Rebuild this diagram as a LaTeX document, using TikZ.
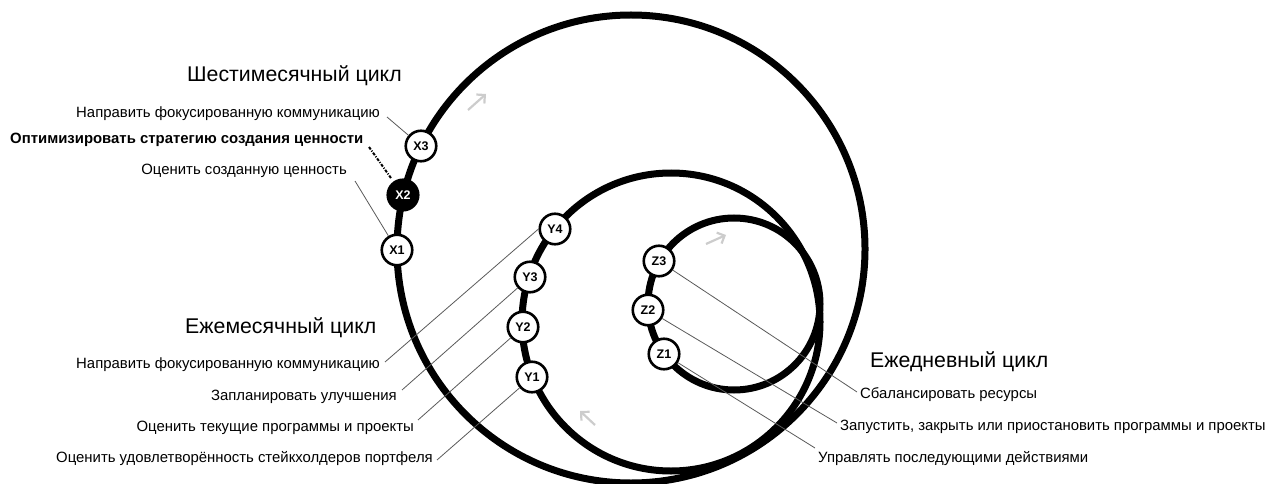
\documentclass[tikz,border=0pt]{standalone}
\usepackage{fontspec}
\setmainfont{Liberation Sans}
\usetikzlibrary{arrows.meta}

\begin{document}
\begin{tikzpicture}[x=1pt, y=-1pt,
  cycle/.style={line width=7pt},
  stage/.style={circle, draw, line width=2.6pt, fill=white, minimum size=30.5pt, inner sep=0pt, font=\bfseries\fontsize{12.5}{12.5}\selectfont},
  keystage/.style={stage, fill=black, text=white},
  note/.style={inner sep=0pt, font=\fontsize{14.9}{15}\selectfont},
  heading/.style={inner sep=0pt, font=\fontsize{21.3}{22}\selectfont},
  leader/.style={draw=black!65, line width=0.8pt},
  flow/.style={draw=black!20, line width=2.2pt, -{Straight Barb[length=6pt,width=12pt]}}]
\useasboundingbox (0,0) rectangle (1266,484);

% Cycles
\draw[cycle] (631,249) circle[radius=234pt];
\draw[cycle] (671,322) circle[radius=149pt];
\draw[cycle] (734,304) circle[radius=86pt];

% Direction arrows
\coordinate (fa1) at (468,110); \coordinate (fa2) at (486,94);
\coordinate (fb1) at (595,425); \coordinate (fb2) at (580,411);
\coordinate (fc1) at (706,244); \coordinate (fc2) at (726,235);
\draw[flow] (fa1) -- (fa2);
\draw[flow] (fb1) -- (fb2);
\draw[flow] (fc1) -- (fc2);

% Six-month cycle
\node[heading, anchor=base west] (tx) at (187,82) {Шестимесячный цикл};
\node[note, anchor=base east] (lx3) at (380,118) {Направить фокусированную коммуникацию};
\node[note, anchor=base west, font=\bfseries\fontsize{14.9}{15}\selectfont] (lx2) at (10,143) {Оптимизировать стратегию создания ценности};
\node[note, anchor=base east] (lx1) at (347,174) {Оценить созданную ценность};
\coordinate (ex3) at (387,117);
\coordinate (ex2) at (369,147);
\coordinate (ex1) at (355,181);

% Monthly cycle
\node[heading, anchor=base west] (ty) at (185,333) {Ежемесячный цикл};
\node[note, anchor=base east] (ly4) at (380,368) {Направить фокусированную коммуникацию};
\node[note, anchor=base east] (ly3) at (397,400) {Запланировать улучшения};
\node[note, anchor=base east] (ly2) at (414,431) {Оценить текущие программы и проекты};
\node[note, anchor=base east] (ly1) at (433,462) {Оценить удовлетворённость стейкхолдеров портфеля};
\coordinate (ey4) at (385,362);
\coordinate (ey3) at (402,390);
\coordinate (ey2) at (418,420);
\coordinate (ey1) at (437,460);

% Daily cycle
\node[heading, anchor=base west] (tz) at (870,367) {Ежедневный цикл};
\node[note, anchor=base west] (lz3) at (860,398) {Сбалансировать ресурсы};
\node[note, anchor=base west] (lz2) at (840,430) {Запустить, закрыть или приостановить программы и проекты};
\node[note, anchor=base west] (lz1) at (818,462) {Управлять последующими действиями};
\coordinate (ez3) at (857,392);
\coordinate (ez2) at (837,423);
\coordinate (ez1) at (815,448);

% Stages
\node[stage] (x1) at (397,250) {X1};
\node[keystage] (x2) at (403,195) {X2};
\node[stage] (x3) at (421,146) {X3};
\node[stage] (y1) at (532,377) {Y1};
\node[stage] (y2) at (523,327) {Y2};
\node[stage] (y3) at (530,277) {Y3};
\node[stage] (y4) at (555,229) {Y4};
\node[stage] (z1) at (664,354) {Z1};
\node[stage] (z2) at (648,310) {Z2};
\node[stage] (z3) at (659,261) {Z3};

% Leaders
\draw[leader] (ex3) -- (x3);
\draw[line width=2pt, dash pattern=on 3pt off 1.5pt on 1pt off 1.5pt, shorten >=4pt] (ex2) -- (x2);
\draw[leader] (ex1) -- (x1);
\draw[leader] (ey4) -- (y4.west);
\draw[leader] (ey3) -- (y3);
\draw[leader] (ey2) -- (y2);
\draw[leader] (ey1) -- (y1);
\draw[leader] (ez3) -- (z3);
\draw[leader] (ez2) -- (z2);
\draw[leader] (ez1) -- (z1);
\end{tikzpicture}
\end{document}
